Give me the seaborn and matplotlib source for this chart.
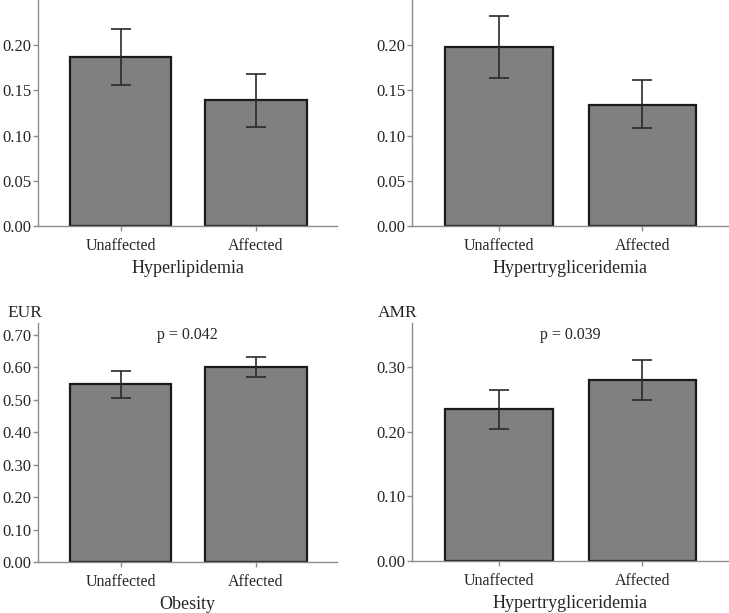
import matplotlib
matplotlib.use("Agg")
import matplotlib.pyplot as plt
import seaborn as sns
import numpy as np
from matplotlib.ticker import FormatStrFormatter

# Data
groups = ['Unaffected', 'Affected']

hyperlipidemia_mean = [0.187, 0.139]
hyperlipidemia_lo = [0.156, 0.110]
hyperlipidemia_hi = [0.218, 0.168]

hypertg_mean = [0.198, 0.134]
hypertg_lo = [0.164, 0.108]
hypertg_hi = [0.232, 0.161]

obesity_eur_mean = [0.548, 0.601]
obesity_eur_lo = [0.507, 0.570]
obesity_eur_hi = [0.588, 0.632]

hypertg_amr_mean = [0.235, 0.280]
hypertg_amr_lo = [0.205, 0.249]
hypertg_amr_hi = [0.264, 0.311]

top_ticks = [0.00, 0.05, 0.10, 0.15, 0.20]
eur_ticks = [0.00, 0.10, 0.20, 0.30, 0.40, 0.50, 0.60, 0.70]
amr_ticks = [0.00, 0.10, 0.20, 0.30]

sns.set_theme(style='ticks')
plt.rcParams['font.family'] = ['Liberation Serif', 'DejaVu Serif']

fig = plt.figure(figsize=(7.29, 6.13), dpi=100)

# [left, bottom, width, height] in figure fractions
ax1 = fig.add_axes([0.0521, 0.6313, 0.4102, 0.3687])
ax2 = fig.add_axes([0.5647, 0.6313, 0.4343, 0.3687])
ax3 = fig.add_axes([0.0521, 0.0832, 0.4102, 0.3894])
ax4 = fig.add_axes([0.5647, 0.0848, 0.4343, 0.3878])

panels = [
    (ax1, hyperlipidemia_mean, hyperlipidemia_lo, hyperlipidemia_hi, 'Hyperlipidemia', 0.25, top_ticks, None, None),
    (ax2, hypertg_mean, hypertg_lo, hypertg_hi, 'Hypertrygliceridemia', 0.25, top_ticks, None, None),
    (ax3, obesity_eur_mean, obesity_eur_lo, obesity_eur_hi, 'Obesity', 0.736, eur_ticks, 'EUR', 'p = 0.042'),
    (ax4, hypertg_amr_mean, hypertg_amr_lo, hypertg_amr_hi, 'Hypertrygliceridemia', 0.368, amr_ticks, 'AMR', 'p = 0.039'),
]

spine_col = '#8c8c8c'

for ax, mean, lo, hi, label, ymax, ticks, tag, ptext in panels:
    mean = np.array(mean)
    lo = np.array(lo)
    hi = np.array(hi)
    sns.barplot(x=groups, y=mean, color='#808080', saturation=1, width=0.75,
                edgecolor='#1a1a1a', linewidth=1.6, ax=ax)
    ax.errorbar(x=np.arange(len(groups)), y=mean, yerr=[mean - lo, hi - mean],
                fmt='none', ecolor='#2a2a2a', elinewidth=1.2, capsize=7, capthick=1.2)
    ax.set_xlim(-0.61, 1.60)
    ax.set_ylim(0, ymax)
    ax.set_yticks(ticks)
    ax.yaxis.set_major_formatter(FormatStrFormatter('%.2f'))
    ax.set_xlabel(label, fontsize=13, labelpad=4.5)
    ax.set_ylabel('')
    for s in ['top', 'right']:
        ax.spines[s].set_visible(False)
    for s in ['left', 'bottom']:
        ax.spines[s].set_color(spine_col)
        ax.spines[s].set_linewidth(1.0)
    ax.tick_params(axis='y', labelsize=12, length=3.6, width=1, color=spine_col, pad=1)
    ax.tick_params(axis='x', labelsize=11.5, length=3.6, width=1, color=spine_col, pad=5)
    if tag:
        ax.text(-0.045, 1.045, tag, transform=ax.transAxes, ha='center', va='center', fontsize=12.5)
    if ptext:
        ax.text(0.5, 0.95, ptext, transform=ax.transAxes, ha='center', va='center', fontsize=11.5)

fig.savefig('out.png', dpi=100)
